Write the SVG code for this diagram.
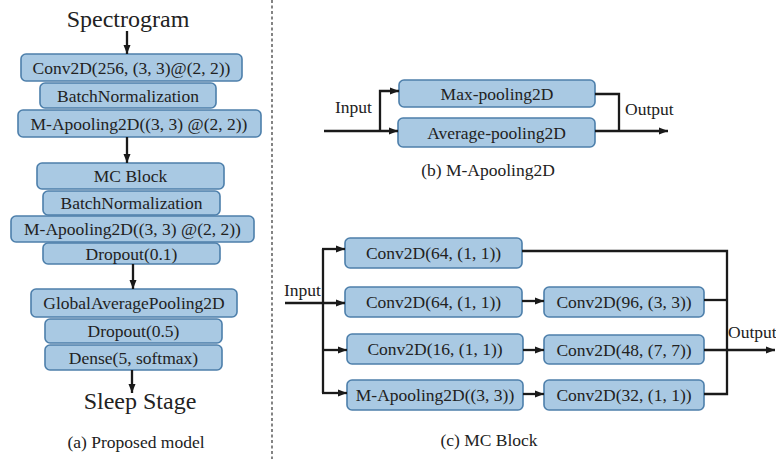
<svg xmlns="http://www.w3.org/2000/svg" width="776" height="459" viewBox="0 0 776 459">
  <defs>
    <marker id="arrow" markerUnits="userSpaceOnUse" markerWidth="10" markerHeight="8" refX="9" refY="4" orient="auto">
      <path d="M0,0.5 L9,4 L0,7.5 z" fill="#1a1a1a"/>
    </marker>
  </defs>
  <style>
    .box { fill: #a9c9e3; stroke: #4d7fab; stroke-width: 1.6; }
    .lbl { font-family: "Liberation Serif", "Times New Roman", serif; font-size: 17.5px; fill: #222; text-anchor: middle; }
    .big { font-family: "Liberation Serif", "Times New Roman", serif; font-size: 24px; fill: #222; text-anchor: middle; }
    .free { font-family: "Liberation Serif", "Times New Roman", serif; font-size: 17.5px; fill: #222; }
    .wire { fill: none; stroke: #1a1a1a; stroke-width: 2.3; }
    .arr { marker-end: url(#arrow); }
  </style>
  <rect width="776" height="459" fill="#ffffff"/>

  <!-- panel divider -->
  <line x1="272" y1="0" x2="272" y2="459" stroke="#333" stroke-width="1.2" stroke-dasharray="3,2.5"/>

  <!-- (a) proposed model -->
  <text class="big" x="128" y="27">Spectrogram</text>
  <g id="a-conv"><rect class="box" x="21" y="54" width="221" height="27" rx="5"/><text class="lbl" x="131.5" y="73.5">Conv2D(256, (3, 3)@(2, 2))</text></g>
  <g id="a-bn1"><rect class="box" x="40" y="83" width="176" height="25" rx="5"/><text class="lbl" x="128" y="101.5">BatchNormalization</text></g>
  <g id="a-pool1"><rect class="box" x="18" y="110" width="243" height="27" rx="5"/><text class="lbl" x="139" y="129.5">M-Apooling2D((3, 3) @(2, 2))</text></g>
  <g id="a-mc"><rect class="box" x="37" y="163" width="187" height="26" rx="5"/><text class="lbl" x="130.5" y="182">MC Block</text></g>
  <g id="a-bn2"><rect class="box" x="43" y="191" width="177" height="24" rx="5"/><text class="lbl" x="131.5" y="209">BatchNormalization</text></g>
  <g id="a-pool2"><rect class="box" x="11" y="216" width="243" height="26" rx="5"/><text class="lbl" x="132.5" y="235">M-Apooling2D((3, 3) @(2, 2))</text></g>
  <g id="a-drop1"><rect class="box" x="43" y="243" width="177" height="21" rx="5"/><text class="lbl" x="131.5" y="259.5">Dropout(0.1)</text></g>
  <g id="a-gap"><rect class="box" x="31" y="289" width="206" height="28" rx="5"/><text class="lbl" x="134" y="309">GlobalAveragePooling2D</text></g>
  <g id="a-drop2"><rect class="box" x="45" y="319" width="177" height="24" rx="5"/><text class="lbl" x="133.5" y="337">Dropout(0.5)</text></g>
  <g id="a-dense"><rect class="box" x="45" y="345" width="177" height="25" rx="5"/><text class="lbl" x="133.5" y="363.5">Dense(5, softmax)</text></g>
  <text class="big" x="140" y="409">Sleep Stage</text>
  <text class="lbl" x="136" y="448">(a) Proposed model</text>

  <!-- (b) M-Apooling2D -->
  <g id="b-max"><rect class="box" x="399" y="80" width="196" height="27" rx="5"/><text class="lbl" x="497" y="99.5">Max-pooling2D</text></g>
  <g id="b-avg"><rect class="box" x="398" y="118" width="197" height="29" rx="5"/><text class="lbl" x="496.5" y="138.5">Average-pooling2D</text></g>
  <text class="free" x="335" y="113">Input</text>
  <text class="free" x="625" y="115">Output</text>
  <text class="lbl" x="488" y="176">(b) M-Apooling2D</text>

  <!-- (c) MC Block -->
  <g id="c-conv64a"><rect class="box" x="345" y="238" width="177" height="30" rx="5"/><text class="lbl" x="433.5" y="259">Conv2D(64, (1, 1))</text></g>
  <g id="c-conv64b"><rect class="box" x="345" y="287" width="177" height="30" rx="5"/><text class="lbl" x="433.5" y="308">Conv2D(64, (1, 1))</text></g>
  <g id="c-conv16"><rect class="box" x="347" y="334" width="176" height="30" rx="5"/><text class="lbl" x="435" y="355">Conv2D(16, (1, 1))</text></g>
  <g id="c-pool"><rect class="box" x="347" y="380" width="176" height="30" rx="5"/><text class="lbl" x="435" y="401">M-Apooling2D((3, 3))</text></g>
  <g id="c-conv96"><rect class="box" x="544" y="287" width="160" height="30" rx="5"/><text class="lbl" x="624" y="308">Conv2D(96, (3, 3))</text></g>
  <g id="c-conv48"><rect class="box" x="544" y="335" width="160" height="29" rx="5"/><text class="lbl" x="624" y="355.5">Conv2D(48, (7, 7))</text></g>
  <g id="c-conv32"><rect class="box" x="544" y="380" width="160" height="30" rx="5"/><text class="lbl" x="624" y="401">Conv2D(32, (1, 1))</text></g>
  <text class="free" x="284" y="296">Input</text>
  <text class="free" x="728" y="338">Output</text>
  <text class="lbl" x="489" y="446">(c) MC Block</text>

  <!-- connectors -->
  <g id="connectors">
    <line class="wire arr" x1="127" y1="31" x2="127" y2="54"/>
    <line class="wire arr" x1="127" y1="137" x2="127" y2="163"/>
    <line class="wire arr" x1="133" y1="264" x2="133" y2="289"/>
    <line class="wire arr" x1="132" y1="370" x2="132" y2="393"/>

    <line class="wire arr" x1="324" y1="131" x2="398" y2="131"/>
    <polyline class="wire arr" points="380,131 380,91 399,91"/>
    <polyline class="wire" points="595,94 619,94 619,131"/>
    <line class="wire arr" x1="595" y1="131" x2="668" y2="131"/>

    <line class="wire arr" x1="285" y1="303" x2="345" y2="303"/>
    <line class="wire" x1="323" y1="249" x2="323" y2="393"/>
    <line class="wire arr" x1="322" y1="249" x2="345" y2="249"/>
    <line class="wire arr" x1="322" y1="350" x2="347" y2="350"/>
    <line class="wire arr" x1="322" y1="393" x2="347" y2="393"/>
    <line class="wire arr" x1="522" y1="301" x2="544" y2="301"/>
    <line class="wire arr" x1="523" y1="350" x2="544" y2="350"/>
    <line class="wire arr" x1="523" y1="394" x2="544" y2="394"/>
    <polyline class="wire" points="522,251 727,251 727,394 704,394"/>
    <line class="wire" x1="704" y1="300" x2="727" y2="300"/>
    <line class="wire arr" x1="704" y1="350" x2="775" y2="350"/>
  </g>
</svg>
